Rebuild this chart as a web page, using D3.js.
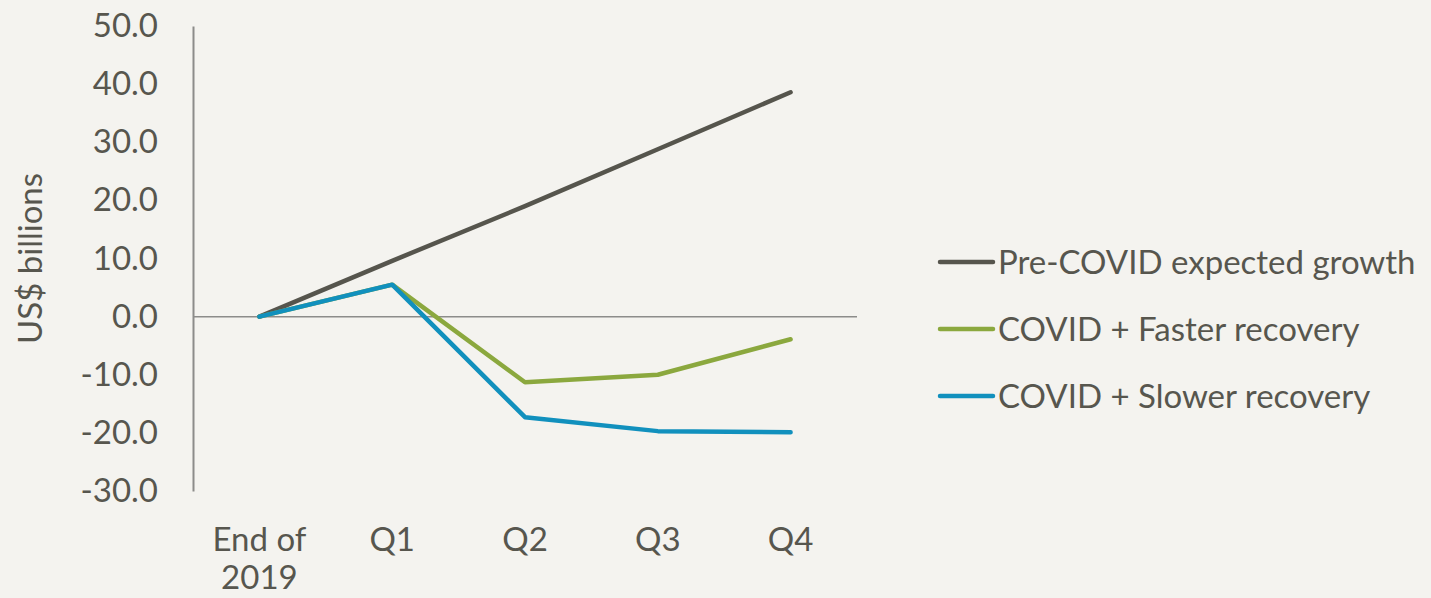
<!DOCTYPE html>
<html>
<head>
<meta charset="utf-8">
<script src="https://cdn.jsdelivr.net/npm/d3@7"></script>
<style>
  html, body { margin: 0; padding: 0; background: #f4f3ef; }
  svg { display: block; }
  text { font-family: Lato, "Open Sans", sans-serif; fill: #57564e; }
</style>
</head>
<body>
<div id="chart"></div>
<script>
// chart data
const categories = ["End of 2019", "Q1", "Q2", "Q3", "Q4"];
const preCovid = [0, 9.6, 19.0, 28.8, 38.6];
const fasterRecovery = [0, 5.5, -11.3, -10.0, -3.9];
const slowerRecovery = [0, 5.5, -17.3, -19.7, -19.9];
const seriesNames = ["Pre-COVID expected growth", "COVID + Faster recovery", "COVID + Slower recovery"];
const seriesColors = ["#56554d", "#8ba83e", "#1190bd"];
const yTicks = [-30, -20, -10, 0, 10, 20, 30, 40, 50];

const series = [preCovid, fasterRecovery, slowerRecovery].map((values, i) => ({
    name: seriesNames[i],
    color: seriesColors[i],
    values: values
}));

const width = 1431, height = 598;
const margin = {top: 26, left: 193, right: 574, bottom: 107};
const fontSize = 33;

const svg = d3.select("#chart").append("svg")
    .attr("width", width)
    .attr("height", height);

const x = d3.scalePoint()
    .domain(categories)
    .range([margin.left, width - margin.right])
    .padding(0.5);

const y = d3.scaleLinear()
    .domain([-30, 50])
    .range([height - margin.bottom, margin.top]);

// plain hyphen for negatives, like the original
const fmt = d => d3.format(".1f")(d).replace("\u2212", "-");

// y axis
const yAxis = svg.append("g")
    .attr("transform", `translate(${margin.left},0)`)
    .call(d3.axisLeft(y).tickValues(yTicks).tickFormat(fmt).tickSize(0).tickPadding(35));
yAxis.select(".domain").attr("stroke", "#8c8c8a").attr("stroke-width", 2);
yAxis.selectAll("text")
    .style("font-size", fontSize + "px")
    .style("font-family", "Lato, 'Open Sans', sans-serif")
    .attr("fill", "#57564e");

// zero line
svg.append("line")
    .attr("x1", margin.left)
    .attr("x2", width - margin.right)
    .attr("y1", y(0))
    .attr("y2", y(0))
    .attr("stroke", "#8c8c8a")
    .attr("stroke-width", 1.5);

// x labels
const xLabels = svg.append("g").selectAll("text")
    .data(categories)
    .enter()
    .append("text")
    .attr("text-anchor", "middle")
    .attr("x", d => x(d))
    .attr("y", 551)
    .style("font-size", fontSize + "px");

xLabels.each(function(d) {
    let lines = d === "End of 2019" ? ["End of", "2019"] : [d];
    d3.select(this).selectAll("tspan")
        .data(lines)
        .enter()
        .append("tspan")
        .attr("x", x(d))
        .attr("dy", (l, i) => i === 0 ? 0 : 38)
        .text(l => l);
});

// y axis title
svg.append("text")
    .attr("transform", `translate(42,${y(10)}) rotate(-90)`)
    .attr("text-anchor", "middle")
    .style("font-size", fontSize + "px")
    .text("US$ billions");

// lines
const line = d3.line()
    .x((d, i) => x(categories[i]))
    .y(d => y(d));

svg.append("g").selectAll("path")
    .data(series)
    .enter()
    .append("path")
    .attr("d", d => line(d.values))
    .attr("fill", "none")
    .attr("stroke", d => d.color)
    .attr("stroke-width", 4.5)
    .attr("stroke-linecap", "round")
    .attr("stroke-linejoin", "round");

// legend
const legend = svg.append("g").selectAll("g")
    .data(series)
    .enter()
    .append("g")
    .attr("transform", (d, i) => `translate(940,${262 + i * 67})`);

legend.append("line")
    .attr("x1", 0)
    .attr("x2", 53)
    .attr("stroke", d => d.color)
    .attr("stroke-width", 4.5)
    .attr("stroke-linecap", "round");

legend.append("text")
    .attr("x", 58)
    .attr("dy", "0.35em")
    .style("font-size", fontSize + "px")
    .text(d => d.name);
</script>
</body>
</html>
